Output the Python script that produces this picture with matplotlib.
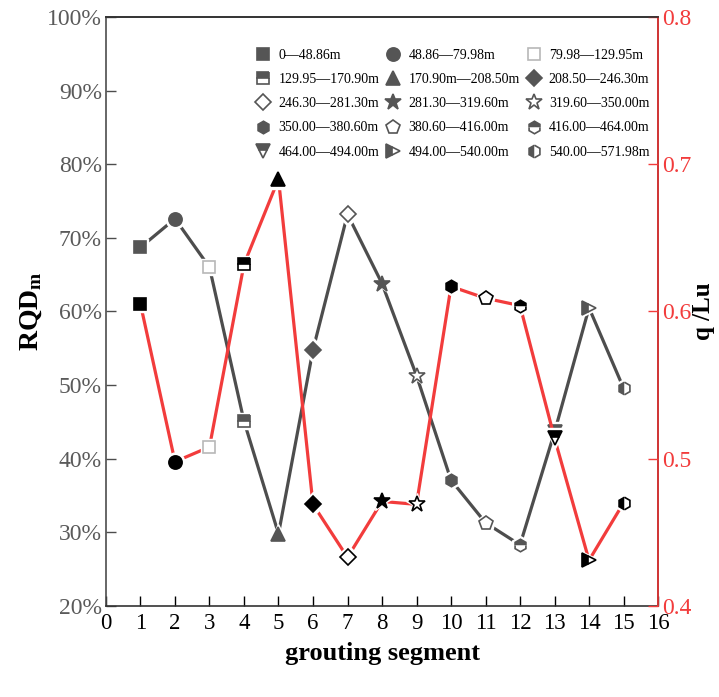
import matplotlib
matplotlib.use('Agg')
import matplotlib.pyplot as plt
from matplotlib.ticker import FuncFormatter

plt.rcParams['font.family'] = ['Liberation Serif', 'DejaVu Serif']
plt.rcParams['mathtext.fontset'] = 'custom'
plt.rcParams['mathtext.rm'] = 'Liberation Serif'
plt.rcParams['mathtext.bf'] = 'Liberation Serif:bold'

segments = list(range(1, 16))
rqd = [68.7, 72.6, 66.0, 45.1, 29.8, 54.8, 73.2, 63.8, 51.3, 37.1, 31.3, 28.3, 43.6, 60.5, 49.6]
lugeon = [0.605, 0.498, 0.508, 0.632, 0.690, 0.469, 0.433, 0.471, 0.469, 0.617, 0.609, 0.604, 0.514, 0.431, 0.470]
depth_labels = ['0—48.86m', '48.86—79.98m', '79.98—129.95m',
                '129.95—170.90m', '170.90m—208.50m', '208.50—246.30m',
                '246.30—281.30m', '281.30—319.60m', '319.60—350.00m',
                '350.00—380.60m', '380.60—416.00m', '416.00—464.00m',
                '464.00—494.00m', '494.00—540.00m', '540.00—571.98m']
# marker, fillstyle for each segment
marker_specs = [('s', 'full'), ('o', 'full'), ('s', 'none'), ('s', 'top'), ('^', 'full'),
                ('D', 'full'), ('D', 'none'), ('*', 'full'), ('*', 'none'), ('h', 'full'),
                ('p', 'none'), ('h', 'top'), ('v', 'top'), ('>', 'left'), ('h', 'left')]
marker_sizes = {'s': 8, 'o': 9.5, '^': 10, 'D': 8, '*': 12, 'h': 9, 'p': 10, 'v': 10, '>': 10}

GRAY = '#4d4d4d'
RED = '#f23c3c'
LIGHT = '#b8b8b8'

fig = plt.figure(figsize=(7.19, 6.97), dpi=100)
ax = fig.add_axes([0.1474, 0.1306, 0.7678, 0.845])
ax2 = ax.twinx()


def draw_markers(axis, xs, ys, color, z):
    handles = []
    for x, y, (m, fs), lab in zip(xs, ys, marker_specs, depth_labels):
        ms = marker_sizes[m]
        axis.plot([x], [y], marker=m, ms=ms + 4, color='white', mec='white', ls='none', zorder=z)
        edge = LIGHT if (m == 's' and fs == 'none') else color
        h, = axis.plot([x], [y], marker=m, ms=ms, color=color, mec=edge, mew=1.2,
                       fillstyle=fs, markerfacecoloralt='white', ls='none', zorder=z + 1, label=lab)
        handles.append(h)
    return handles


ax.plot(segments, rqd, color=GRAY, lw=2.3, zorder=2)
gray_handles = draw_markers(ax, segments, rqd, '#555555', 3)
ax2.plot(segments, lugeon, color=RED, lw=2.3, zorder=2)
draw_markers(ax2, segments, lugeon, 'black', 3)

ax.set_xlim(0, 16)
ax.set_ylim(20, 100)
ax2.set_ylim(0.4, 0.8)
ax.set_xticks(range(0, 17))
ax.set_yticks(range(20, 101, 10))
ax.yaxis.set_major_formatter(FuncFormatter(lambda v, p: f'{v:.0f}%'))
ax2.set_yticks([0.4, 0.5, 0.6, 0.7, 0.8])

ax.tick_params(axis='x', direction='in', length=7, width=1, colors='black', labelsize=16.5, pad=5)
ax.tick_params(axis='y', direction='in', length=7, width=1, colors=GRAY, labelcolor='#5a5a5a',
               labelsize=17, pad=3)
ax2.tick_params(axis='y', direction='in', length=7, width=1, colors=RED, labelcolor=RED,
                labelsize=17, pad=3)

ax.spines['left'].set_color(GRAY)
ax.spines['bottom'].set_color('#333333')
ax.spines['top'].set_color('#333333')
ax2.spines['right'].set_color(RED)
ax2.spines['left'].set_visible(False)
ax2.spines['top'].set_color('#333333')
ax2.spines['bottom'].set_visible(False)
for sp in list(ax.spines.values()) + list(ax2.spines.values()):
    sp.set_linewidth(1.2)

ax.set_xlabel('grouting segment', fontsize=19, fontweight='bold', labelpad=6)
ax.set_ylabel(r'$\mathbf{RQD_m}$', fontsize=20, labelpad=2)
ax2.set_ylabel('q /Lu', fontsize=18, fontweight='bold', rotation=90, labelpad=0)

# legend is filled row by row in the reference
order = [i for c in range(3) for i in range(c, 15, 3)]
leg = ax2.legend([gray_handles[i] for i in order], [depth_labels[i] for i in order],
                 ncol=3, loc='upper left', bbox_to_anchor=(0.262, 0.955), frameon=False,
                 fontsize=10, handlelength=1.0, handletextpad=0.6, columnspacing=0.5,
                 labelspacing=0.8, borderaxespad=0)

fig.savefig('out.png', dpi=100)
